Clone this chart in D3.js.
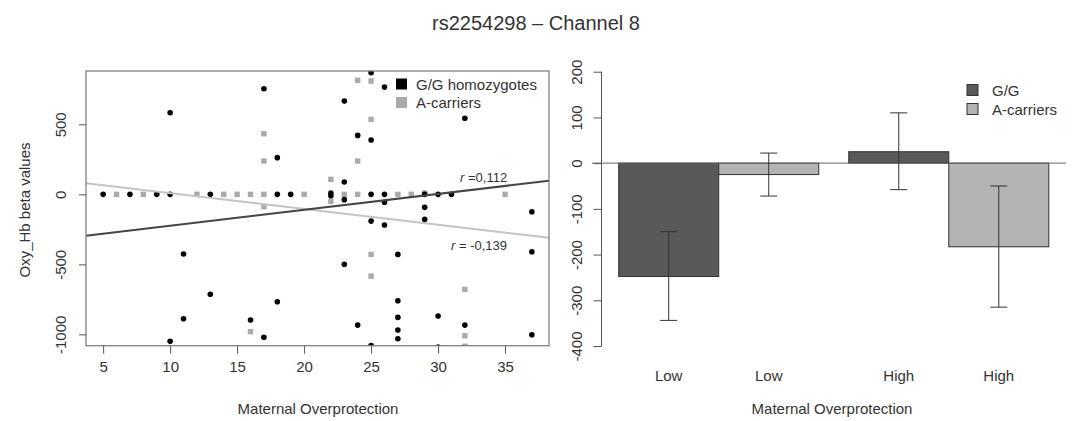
<!DOCTYPE html>
<html>
<head>
<meta charset="utf-8">
<script src="https://cdn.jsdelivr.net/npm/d3@7"></script>
<style>
  body { margin: 0; background: #fff; }
  text { font-family: "Liberation Sans", Arial, sans-serif; fill: #333; }
</style>
</head>
<body>
<script>
// scatter data: G/G homozygotes (black dots)
var ggX = [5, 7, 9, 10, 13, 18, 19, 10, 17, 18, 11, 13, 18, 11, 16, 17, 10,
  25, 26, 23, 32, 24, 25, 23, 22, 22, 25, 26, 29, 30, 31,
  26, 23, 29, 29, 37, 25, 26, 37, 27, 23, 27, 30, 27, 24, 32, 27, 37, 27, 25, 30]
var ggY = [0, 0, 0, 0, 0, 0, 0, 583, 754, 262, -426, -714, -767, -888, -898, -1021, -1050,
  869, 766, 666, 543, 421, 388, 88, 10, -10, 0, 0, 0, 0, 0,
  -56, -38, -93, -179, -124, -191, -219, -410, -429, -500, -760, -869, -879, -934, -934, -969, -1003, -1031, -1080, -1090]

// scatter data: A-carriers (grey squares)
var acX = [6, 8, 12, 14, 15, 16, 17, 20, 17, 17, 17, 16,
  24, 25, 25, 24, 22, 22, 23, 24, 27, 28, 29, 35, 25, 25, 32, 32, 32]
var acY = [0, 0, 0, 0, 0, 0, 0, 0, 433, 238, -88, -981,
  814, 809, 535, 238, 107, -50, 0, 0, 0, 0, 10, 0, -429, -584, -679, -1010, -1085]

// fitted lines [intercept, slope]
var ggFit = [-338, 11.37]
var acFit = [121, -11.26]
var rLabels = ["=0,112", "= -0,139"]

var xTicks = [5, 10, 15, 20, 25, 30, 35]
var yTicks = [500, 0, -500, -1000]

// bar chart data
var barLabels = ["Low", "Low", "High", "High"]
var barGeno = ["G/G", "A-carriers", "G/G", "A-carriers"]
var barMean = [-248, -25, 25, -183]
var barLo = [-344, -72, -58, -315]
var barHi = [-150, 22, 110, -50]
var barTicks = [200, 100, 0, -100, -200, -300, -400]

var dark = "#595959", light = "#b3b3b3"
var plain = function(d) { return String(d) }

var svg = d3.select("body").append("svg")
  .attr("width", 1072).attr("height", 421)

svg.append("text")
  .attr("x", 536).attr("y", 30)
  .attr("text-anchor", "middle")
  .style("font-size", "20px")
  .text("rs2254298 \u2013 Channel 8")

// ---------- left scatter ----------
var x = d3.scaleLinear().domain([3.72, 38.28]).range([86, 549])
var y = d3.scaleLinear().domain([-1081, 881]).range([345.7, 71])

svg.append("clipPath").attr("id", "clip")
  .append("rect").attr("x", 86).attr("y", 71).attr("width", 463).attr("height", 274.7)

var pg = svg.append("g").attr("clip-path", "url(#clip)")

pg.selectAll(".ac").data(acX).enter().append("rect")
  .attr("x", function(d) { return x(d) - 2.7 })
  .attr("y", function(d, i) { return y(acY[i]) - 2.7 })
  .attr("width", 5.4).attr("height", 5.4)
  .attr("fill", "#aaa")

pg.selectAll(".gg").data(ggX).enter().append("circle")
  .attr("cx", function(d) { return x(d) })
  .attr("cy", function(d, i) { return y(ggY[i]) })
  .attr("r", 2.8)
  .attr("fill", "#000")

var xd = x.domain()
function fitLine(f, col) {
  pg.append("line")
    .attr("x1", x(xd[0])).attr("y1", y(f[0] + f[1] * xd[0]))
    .attr("x2", x(xd[1])).attr("y2", y(f[0] + f[1] * xd[1]))
    .attr("stroke", col).attr("stroke-width", 2)
}
fitLine(acFit, "#c4c4c4")
fitLine(ggFit, "#454545")

function rText(xp, yp, s) {
  var t = svg.append("text").attr("x", xp).attr("y", yp).style("font-size", "13px")
  t.append("tspan").style("font-style", "italic").text("r ")
  t.append("tspan").text(s)
}
rText(460, 182, rLabels[0])
rText(451, 250, rLabels[1])

svg.append("rect")
  .attr("x", 86).attr("y", 71).attr("width", 463).attr("height", 274.7)
  .attr("fill", "none").attr("stroke", "#777").attr("stroke-width", 1.2)

svg.append("g")
  .attr("transform", "translate(0,345.7)")
  .call(d3.axisBottom(x).tickValues(xTicks).tickSize(8).tickPadding(8))
  .call(function(g) { g.select(".domain").remove() })

// rotated y tick labels like R's las=0
function rotLabels(g) {
  g.selectAll(".tick text")
    .attr("x", 0).attr("y", 0).attr("dy", "0.35em")
    .attr("text-anchor", "middle")
    .attr("transform", "translate(-25,0) rotate(-90)")
}

svg.append("g")
  .attr("transform", "translate(86,0)")
  .call(d3.axisLeft(y).tickValues(yTicks).tickSize(7).tickFormat(plain))
  .call(function(g) { g.select(".domain").remove() })
  .call(rotLabels)

svg.append("text")
  .attr("transform", "translate(30,210) rotate(-90)")
  .attr("text-anchor", "middle").style("font-size", "15px")
  .text("Oxy_Hb beta values")

svg.append("text")
  .attr("x", 318).attr("y", 414)
  .attr("text-anchor", "middle").style("font-size", "15px")
  .text("Maternal Overprotection")

// left legend
var lg = [["G/G homozygotes", "#000"], ["A-carriers", "#aaa"]]
lg.forEach(function(d, i) {
  svg.append("rect").attr("x", 396).attr("y", 78.5 + i * 18.5)
    .attr("width", 11).attr("height", 11).attr("fill", d[1])
  svg.append("text").attr("x", 416).attr("y", 89.5 + i * 18.5)
    .style("font-size", "15px").text(d[0])
})

// ---------- right bars ----------
var gap = 0.3
var bx = d3.scaleLinear().domain([-0.172, 4.472]).range([601.5, 1066])
var by = d3.scaleLinear().domain([-400, 200]).range([346, 71.7])
function left(i) { return i + (i >= 2 ? gap : 0) }

svg.selectAll(".bar").data(barMean).enter().append("rect")
  .attr("x", function(d, i) { return bx(left(i)) })
  .attr("width", function(d, i) { return bx(left(i) + 1) - bx(left(i)) })
  .attr("y", function(d) { return by(Math.max(0, d)) })
  .attr("height", function(d) { return Math.abs(by(d) - by(0)) })
  .attr("fill", function(d, i) { return barGeno[i] == "G/G" ? dark : light })
  .attr("stroke", "#333").attr("stroke-width", 1)

svg.append("line")
  .attr("x1", 592).attr("x2", 1066).attr("y1", by(0)).attr("y2", by(0))
  .attr("stroke", "#666").attr("stroke-width", 1)

var eb = svg.selectAll(".err").data(barMean).enter().append("g")
  .attr("stroke", "#333").attr("stroke-width", 1)
eb.append("line")
  .attr("x1", function(d, i) { return bx(left(i) + 0.5) })
  .attr("x2", function(d, i) { return bx(left(i) + 0.5) })
  .attr("y1", function(d, i) { return by(barLo[i]) })
  .attr("y2", function(d, i) { return by(barHi[i]) })
eb.append("line")
  .attr("x1", function(d, i) { return bx(left(i) + 0.5) - 8.5 })
  .attr("x2", function(d, i) { return bx(left(i) + 0.5) + 8.5 })
  .attr("y1", function(d, i) { return by(barLo[i]) })
  .attr("y2", function(d, i) { return by(barLo[i]) })
eb.append("line")
  .attr("x1", function(d, i) { return bx(left(i) + 0.5) - 8.5 })
  .attr("x2", function(d, i) { return bx(left(i) + 0.5) + 8.5 })
  .attr("y1", function(d, i) { return by(barHi[i]) })
  .attr("y2", function(d, i) { return by(barHi[i]) })

svg.append("g")
  .attr("transform", "translate(601.5,0)")
  .call(d3.axisLeft(by).tickValues(barTicks).tickSize(8).tickFormat(plain))
  .call(function(g) {
    g.select(".domain").attr("d", "M0," + by(200) + "V" + by(-400)).attr("stroke", "#555")
  })
  .call(rotLabels)

svg.selectAll(".blab").data(barLabels).enter().append("text")
  .attr("x", function(d, i) { return bx(left(i) + 0.5) })
  .attr("y", 381)
  .attr("text-anchor", "middle").style("font-size", "15px")
  .text(function(d) { return d })

svg.append("text")
  .attr("x", 832).attr("y", 414)
  .attr("text-anchor", "middle").style("font-size", "15px")
  .text("Maternal Overprotection")

var rg = [["G/G", dark], ["A-carriers", light]]
rg.forEach(function(d, i) {
  svg.append("rect").attr("x", 967).attr("y", 84.5 + i * 19)
    .attr("width", 11).attr("height", 11).attr("fill", d[1]).attr("stroke", "#333")
  svg.append("text").attr("x", 992).attr("y", 95.5 + i * 19)
    .style("font-size", "15px").text(d[0])
})

d3.selectAll(".tick text").style("font-size", "15px").attr("fill", "#333")
d3.selectAll(".tick line").attr("stroke", "#555")
</script>
</body>
</html>
